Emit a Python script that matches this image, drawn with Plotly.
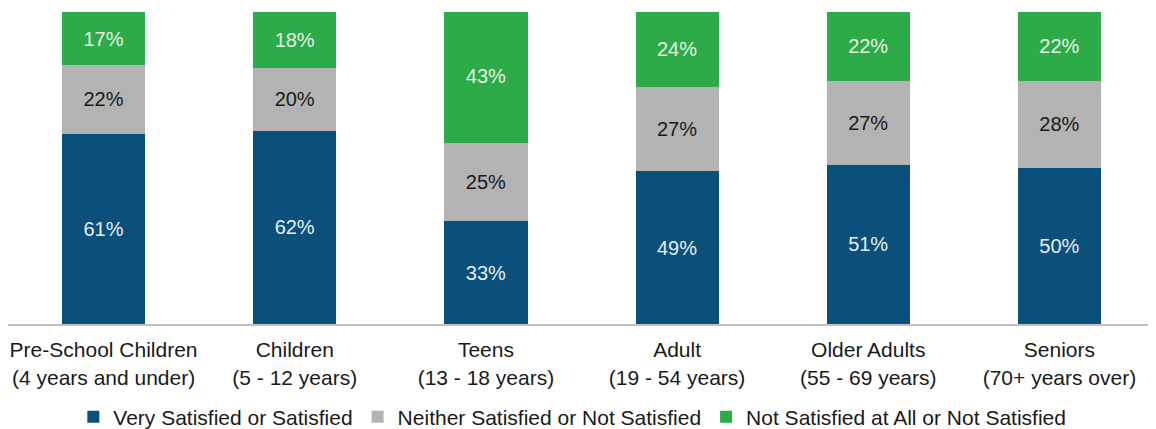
import plotly.graph_objects as go

categories = ["Pre-School Children<br>(4 years and under)", "Children<br>(5 - 12 years)",
              "Teens<br>(13 - 18 years)", "Adult<br>(19 - 54 years)",
              "Older Adults<br>(55 - 69 years)", "Seniors<br>(70+ years over)"]
very_satisfied = [61, 62, 33, 49, 51, 50]
neither = [22, 20, 25, 27, 27, 28]
not_satisfied = [17, 18, 43, 24, 22, 22]

series = [
    ("Very Satisfied or Satisfied", very_satisfied, "#0B4F7B", "#E6EEF4"),
    ("Neither Satisfied or Not Satisfied", neither, "#B3B3B3", "#1A1A1A"),
    ("Not Satisfied at All or Not Satisfied", not_satisfied, "#2CAB48", "#E4F3E4"),
]

fig = go.Figure()
for name, vals, color, tcolor in series:
    fig.add_trace(go.Bar(
        x=categories, y=vals, name=name,
        marker=dict(color=color, line=dict(width=0)),
        text=[f"{v}%" for v in vals], textposition="inside",
        insidetextanchor="middle",
        textfont=dict(color=tcolor, size=20, family="Liberation Sans, Arial"),
        width=0.435,
    ))

fig.update_layout(
    barmode="stack",
    width=1148, height=421,
    margin=dict(l=0, r=1, t=4, b=105, autoexpand=False),
    plot_bgcolor="white", paper_bgcolor="white",
    font=dict(family="Liberation Sans, Arial", size=21, color="#1A1A1A"),
    uniformtext=dict(minsize=20, mode="show"),
    xaxis=dict(showline=True, linecolor="#BFBFBF", linewidth=2, ticks="",
               tickfont=dict(size=21, color="#1A1A1A"), showgrid=False,
               automargin=False, ticklabelstandoff=6),
    yaxis=dict(range=[0, 100], visible=False, showgrid=False, automargin=False),
    legend=dict(orientation="h", x=0.492, xanchor="center",
                yref="container", y=0.0285, yanchor="middle",
                font=dict(size=21, color="#1A1A1A"), itemwidth=30,
                traceorder="normal"),
    showlegend=True,
)

fig.write_html("out.html")
